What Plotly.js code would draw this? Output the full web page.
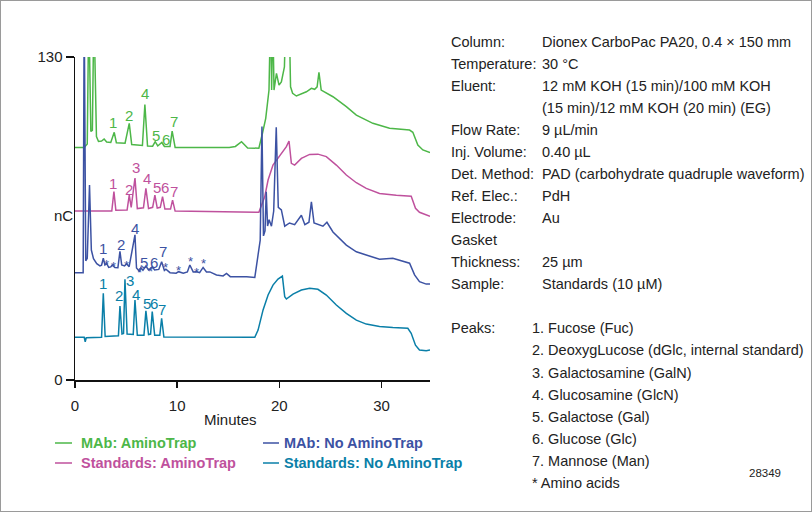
<!DOCTYPE html>
<html><head><meta charset="utf-8">
<script src="https://cdn.plot.ly/plotly-3.0.1.min.js"></script>
<style>
html,body{margin:0;padding:0;background:#fff;}
#wrap{width:812px;height:512px;box-sizing:border-box;border:1px solid #9a9a9a;overflow:hidden;}
#chart{width:810px;height:510px;}
</style></head>
<body><div id="wrap"><div id="chart"></div></div>
<script>
// ---------- data (minutes, nC) ----------
const mabTrapT = [0,0.9,1.2,1.35,1.55,1.7,1.85,2.1,2.3,2.6,2.85,3.1,3.5,3.84,4.05,4.9,5.31,5.55,6.6,6.84,7.1,7.6,7.85,8.1,8.5,8.75,9.3,9.51,9.8,15.1,15.7,16.3,16.9,18.0,18.35,18.67,18.99,19.15,19.25,19.35,19.48,19.72,19.97,20.2,20.5,20.65,20.8,20.95,21.1,21.3,21.67,22.65,23.14,23.46,23.7,23.88,24.1,25.25,26.56,27.54,29.16,30.79,32.75,33.07,33.56,34.05,34.75];
const mabTrapV = [93.6,93.6,95,150,100,100.5,150,98,96,96.2,97.0,95.8,95.6,99.7,95.5,95.3,103.3,94.8,94.4,110.9,94.2,94.1,95.9,94.2,95.6,94.0,94.0,100.2,93.6,93.6,94,95.9,93.4,93.3,99.3,105.3,116.7,150,116.7,150,116.7,123.4,118.7,120,126,150,135,150,118,115.4,114.3,116,117.4,117,118,123.8,116.7,114,110,106.6,103.3,101.3,100.6,99.7,94.6,92.6,91.5];

const stdTrapT = [0,3.6,3.81,4.0,5.1,5.31,5.5,5.87,6.1,6.7,6.94,7.2,7.6,7.82,8.05,8.35,8.57,8.8,9.35,9.55,9.8,18.0,18.57,18.9,19.38,20.04,20.69,20.95,21.18,21.5,22.16,22.97,23.78,24.6,25.58,26.56,27.54,28.51,29.81,31.45,32.91,33.33,33.72,34.75];
const stdTrapV = [68.0,68.0,75.8,68.3,68.4,74.4,69.5,81.3,69.0,69.3,77.1,69.0,69.5,74.4,69.2,69.5,73.8,68.8,68.8,72.4,68.0,67.5,73.7,80.5,86.5,90.5,93.9,96.2,87.2,86.5,89.2,90.8,90.9,89.9,86.5,82.5,79.4,77.1,75.1,74.4,74.0,69.1,67.5,65.9];

const mabNoTrapT = [0,0.8,0.9,1.05,1.2,1.42,1.6,1.81,2.13,2.44,2.6,2.77,2.93,3.1,3.3,3.5,3.65,3.9,4.2,4.40,4.57,4.85,5.05,5.3,5.87,6.02,6.3,6.45,6.65,6.94,7.2,7.4,7.56,7.8,8.2,8.48,8.75,8.9,9.3,9.9,10.14,10.6,11.0,11.24,11.57,11.9,12.2,12.54,12.87,13.2,13.85,14.5,14.83,15.2,16.8,17.6,17.9,18.13,18.3,18.45,18.6,18.72,18.85,19.0,19.23,19.45,19.7,19.9,20.2,20.53,21.0,21.5,22.16,22.5,22.9,23.14,23.4,24.27,24.66,25.25,26.56,27.54,28.51,29.81,31.11,32.42,32.75,33.24,33.72,34.38,34.75];
const mabNoTrapV = [43.2,43.2,150,48,49,78.5,52.3,48.8,46.8,45.9,46.2,49.0,46.3,46.8,45.3,45.5,46.3,45.3,45.2,51.8,46.3,45.9,46.8,45.6,58.4,45.1,43.8,45.2,44.2,45.9,44.3,44.8,45.6,44.3,44.5,47.6,44.1,44.6,43.2,43.0,43.6,43.0,43.5,46.3,43.5,43.6,43.2,45.3,43.5,43.5,42.3,41.9,42.9,41.6,41.6,41.3,49.8,56.3,102,58,60,75.8,62,64.5,61.9,68,101.7,69.5,68.5,61.9,63.2,62.5,66.3,62.5,63.5,71.7,63.2,61.9,63.5,59.6,54.3,51.6,50.3,48.6,49.0,47.6,47.0,42.3,39.6,38.6,38.6];

const stdNoTrapT = [0,0.9,1.0,1.1,2.6,2.77,2.95,4.25,4.40,4.6,4.75,4.89,5.1,5.7,5.87,6.1,6.75,6.94,7.2,7.4,7.56,7.8,8.3,8.48,8.7,17.6,17.92,18.41,18.9,19.38,19.87,20.3,20.53,20.69,21.34,22.16,22.97,23.78,24.6,25.58,26.56,27.54,28.51,29.81,31.11,32.58,32.91,33.33,33.72,34.38,34.75];
const stdNoTrapV = [17.2,17.2,15.4,17.0,17.2,34.9,17.5,17.8,29.8,18.5,18.7,40.5,18.5,18.3,32.2,18.0,18.0,27.8,18.3,18.5,27.5,18.0,18.0,24.8,17.3,17.2,20.1,28.2,34.2,38.2,40.6,41.8,33.5,32.6,34.6,36.2,36.9,36.5,34.2,30.2,26.8,24.1,22.5,21.5,21.1,20.8,18.8,14.0,12.1,11.8,12.1];

// peak labels
const mabTrapLbl = ['1','2','4','5','6','7'];
const mabTrapLblT = [3.74,5.31,6.88,7.89,8.9,9.71];
const mabTrapLblV = [103.5,106.6,115.4,98.3,96.9,103.9];
const stdTrapLbl = ['1','2','3','4','5','6','7'];
const stdTrapLblT = [3.74,5.28,5.96,7.0,7.98,8.8,9.68];
const stdTrapLblV = [78.9,76.5,85.6,81.2,77.4,77.4,75.8];
const mabNoTrapLbl = ['1','2','4','5','6','7','*','*','*','*','*','*','*','*','*','*'];
const mabNoTrapLblT = [2.71,4.5,5.87,6.8,7.78,8.63,3.1,3.74,5.05,6.35,7.4,8.9,10.14,11.3,11.9,12.54];
const mabNoTrapLblV = [53.0,54.7,61.0,47.2,47.2,51.6,46.4,45.5,46.2,43.2,43.7,45.1,44.1,47.8,43.2,46.8];
const stdNoTrapLbl = ['1','2','3','4','5','6','7'];
const stdNoTrapLblT = [2.71,4.33,5.4,6.0,7.05,7.78,8.47];
const stdNoTrapLblV = [38.9,34.2,40.0,34.5,30.9,30.9,28.5];

const seriesNames = ['MAb: AminoTrap','Standards: AminoTrap','MAb: No AminoTrap','Standards: No AminoTrap'];
const xTicks = [0,10,20,30];
const yTicks = [0,130];

const condLabels = ['Column:','Temperature:','Eluent:','','Flow Rate:','Inj. Volume:','Det. Method:','Ref. Elec.:','Electrode:','Gasket','Thickness:','Sample:'];
const condValues = ['Dionex CarboPac PA20, 0.4 × 150 mm','30 °C','12 mM KOH (15 min)/100 mM KOH','(15 min)/12 mM KOH (20 min) (EG)','9 µL/min','0.40 µL','PAD (carbohydrate quadruple waveform)','PdH','Au','','25 µm','Standards (10 µM)'];
const peakNames = ['1. Fucose (Fuc)','2. DeoxygLucose (dGlc, internal standard)','3. Galactosamine (GalN)','4. Glucosamine (GlcN)','5. Galactose (Gal)','6. Glucose (Glc)','7. Mannose (Man)','* Amino acids'];

// ---------- style ----------
const FONT = 'Liberation Sans, Arial, sans-serif';
const FS = 14.5;
const C = {green:'#4db748', magenta:'#bf519d', blue:'#3c52a3', teal:'#0a7fa8'};
const L = 75, R = 430, T = 57, B = 380;
const px = x => (x - L) / (R - L);
const py = y => (B - y) / (B - T);

const traces = [
  {x: mabTrapT, y: mabTrapV, color: C.green, name: seriesNames[0]},
  {x: stdTrapT, y: stdTrapV, color: C.magenta, name: seriesNames[1]},
  {x: stdNoTrapT, y: stdNoTrapV, color: C.teal, name: seriesNames[3]},
  {x: mabNoTrapT, y: mabNoTrapV, color: C.blue, name: seriesNames[2]}
].map(s => ({x: s.x, y: s.y, type: 'scatter', mode: 'lines', name: s.name,
  line: {color: s.color, width: 1.5}, showlegend: false, hoverinfo: 'skip'}));

const ann = [];
function lbls(txt, t, v, color) {
  txt.forEach((s, i) => ann.push({x: t[i], y: v[i], xref: 'x', yref: 'y', text: s, showarrow: false,
    font: {family: FONT, size: s === '*' ? 13 : 15, color: color}, xanchor: 'center', yanchor: 'middle'}));
}
lbls(mabTrapLbl, mabTrapLblT, mabTrapLblV, C.green);
lbls(stdTrapLbl, stdTrapLblT, stdTrapLblV, C.magenta);
lbls(mabNoTrapLbl, mabNoTrapLblT, mabNoTrapLblV, C.blue);
lbls(stdNoTrapLbl, stdNoTrapLblT, stdNoTrapLblV, C.teal);

function txt(x, y, s, size, color, extra) {
  ann.push(Object.assign({x: px(x), y: py(y), xref: 'paper', yref: 'paper', text: s, showarrow: false,
    xanchor: 'left', yanchor: 'middle', font: {family: FONT, size: size, color: color}}, extra || {}));
}
// axis titles
txt(230, 419, 'Minutes', 15, '#222', {xanchor: 'center'});
txt(63, 215, 'nC', 15, '#222', {xanchor: 'center'});

// conditions panel
condLabels.forEach((s, i) => { if (s) txt(449, 41.7 + i * 22.05, s, FS, '#222'); });
condValues.forEach((s, i) => { if (s) txt(540, 41.7 + i * 22.05, s, FS, '#222'); });
txt(449, 328.3, 'Peaks:', FS, '#222');
peakNames.forEach((s, i) => txt(530, 328.3 + i * 22.15, s, FS, '#222'));
txt(747, 473, '28349', 11.5, '#222');

// legend (manual)
const shapes = [];
const legItems = [
  {x: 55, w: 17, tx: 79, y: 443, c: C.green, n: seriesNames[0]},
  {x: 263, w: 16, tx: 282, y: 443, c: C.blue, n: seriesNames[2]},
  {x: 55, w: 17, tx: 79, y: 463, c: C.magenta, n: seriesNames[1]},
  {x: 263, w: 16, tx: 282, y: 463, c: C.teal, n: seriesNames[3]}
];
legItems.forEach(it => {
  shapes.push({type: 'line', xref: 'paper', yref: 'paper', x0: px(it.x), x1: px(it.x + it.w), y0: py(it.y), y1: py(it.y),
    line: {color: it.c, width: 1.5}});
  txt(it.tx, it.y, '<b>' + it.n + '</b>', FS, it.c);
});

const layout = {
  width: 810, height: 510,
  margin: {l: L - 1, r: 810 - R + 1, t: T - 1, b: 510 - B + 1},
  paper_bgcolor: '#fff', plot_bgcolor: '#fff',
  showlegend: false,
  font: {family: FONT, size: FS, color: '#222'},
  xaxis: {range: [0, 34.75], tickvals: xTicks, ticks: 'outside', ticklen: 6, tickwidth: 1.5, tickcolor: '#111',
    showline: true, linecolor: '#111', linewidth: 1.5, showgrid: false, zeroline: false,
    tickfont: {family: FONT, size: 15, color: '#222'}, ticklabelstandoff: 5},
  yaxis: {range: [0, 130], tickvals: yTicks, ticks: 'outside', ticklen: 8, tickwidth: 1.5, tickcolor: '#111',
    showline: true, linecolor: '#111', linewidth: 1.5, showgrid: false, zeroline: false,
    tickfont: {family: FONT, size: 15, color: '#222'}},
  annotations: ann,
  shapes: shapes
};

Plotly.newPlot('chart', traces, layout, {staticPlot: true, displayModeBar: false});
</script>
</body></html>
